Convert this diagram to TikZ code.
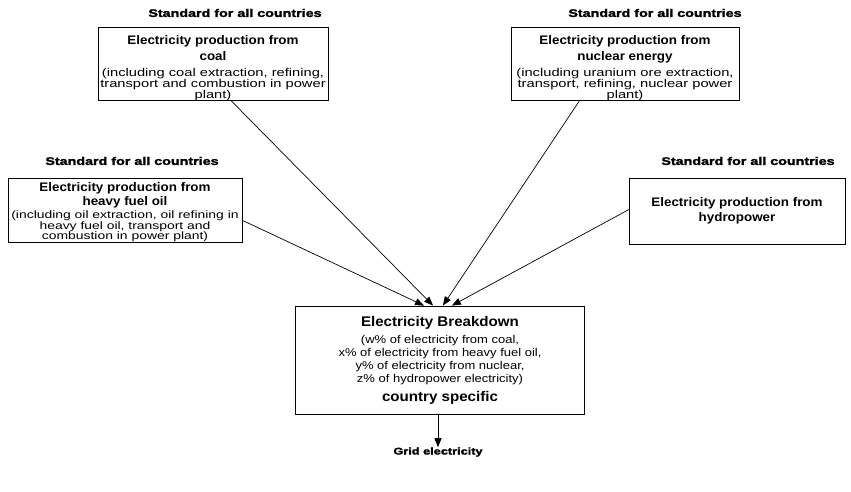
\documentclass[tikz,border=0pt]{standalone}
\usepackage{fontspec}
\setmainfont{Liberation Sans}
\newfontfamily\titfont{Liberation Sans}[FakeStretch=1.08]
\newfontfamily\smfontA{Liberation Sans}[FakeStretch=1.3]
\newfontfamily\smfontB{Liberation Sans}[FakeStretch=1.15]
\newfontfamily\labfont{Liberation Sans}[FakeStretch=1.3,FakeBold=2]
\usetikzlibrary{arrows.meta,calc}
\newcommand\fTitle{\titfont\bfseries\fontsize{12.4}{16}\selectfont}
\newcommand\fBig{\titfont\bfseries\fontsize{14}{18}\selectfont}
\newcommand\fSmall{\smfontA\fontsize{11.3}{11}\selectfont}
\newcommand\fSmallH{\smfontA\fontsize{10.7}{11}\selectfont}
\newcommand\fSmallB{\smfontB\fontsize{11.3}{13}\selectfont}
\newcommand\fLabel{\labfont\bfseries\fontsize{11}{13}\selectfont}
\newcommand\fGrid{\labfont\bfseries\fontsize{9.8}{12}\selectfont}
\tikzset{
  box/.style={draw, line width=0.8pt, inner sep=0pt, align=center},
  lab/.style={inner sep=0pt, font=\fLabel},
  conn/.style={line width=0.7pt, -{Triangle[length=9pt,width=7pt]}}
}
\begin{document}
\begin{tikzpicture}[x=1pt,y=-1pt]
\useasboundingbox[fill=white] (0,0) rectangle (851,491);
% labels
\node[lab] (lcoal) at (235,13) {Standard for all countries};
\node[lab] (lnuc) at (655,13) {Standard for all countries};
\node[lab] (lhfo) at (132,161) {Standard for all countries};
\node[lab] (lhyd) at (748,161) {Standard for all countries};
% boxes
\node[box, minimum width=230, minimum height=72,
      font={\fontsize{11}{11}\selectfont\lineskiplimit=-50pt}] (coal) at (213,64)
 {\fTitle\rule{0pt}{17pt}Electricity production from\\[5pt] \fTitle coal\\[5pt]
  \fSmall (including coal extraction, refining,\\
  \fSmall transport and combustion in power\\ \fSmall plant)};
\node[box, minimum width=228, minimum height=72,
      font={\fontsize{11}{11}\selectfont\lineskiplimit=-50pt}] (nuc) at (625,64)
 {\fTitle\rule{0pt}{17pt}Electricity production from\\[5pt] \fTitle nuclear energy\\[5pt]
  \fSmall (including uranium ore extraction,\\
  \fSmall transport, refining, nuclear power\\ \fSmall plant)};
\node[box, minimum width=234, minimum height=64,
      font={\fontsize{11}{10.5}\selectfont\lineskiplimit=-50pt}] (hfo) at (125,210)
 {\fTitle\rule{0pt}{13pt}Electricity production from\\[3.5pt] \fTitle heavy fuel oil\\[3pt]
  \fSmallH (including oil extraction, oil refining in\\
  \fSmallH heavy fuel oil, transport and\\ \fSmallH combustion in power plant)};
\node[box, minimum width=216, minimum height=66,
      font={\fontsize{11}{15}\selectfont\lineskiplimit=-50pt}] (hyd) at (737,211)
 {\fTitle Electricity production from\\ \fTitle hydropower};
\node[box, minimum width=289, minimum height=108,
      font={\fontsize{11}{13}\selectfont\lineskiplimit=-50pt}] (brk) at (440,360)
 {\fBig Electricity Breakdown\\[4pt]
  \fSmallB (w\% of electricity from coal,\\
  \fSmallB x\% of electricity from heavy fuel oil,\\
  \fSmallB y\% of electricity from nuclear,\\
  \fSmallB z\% of hydropower electricity)\\[6pt]
  \fBig country specific};
\node[inner sep=0pt, font=\fGrid] (grid) at (438,452) {Grid electricity};
% connectors
\draw[conn] ($(hfo.north east)!0.66!(hfo.south east)$) -- ($(brk.north west)!0.445!(brk.north east)$);
\draw[conn] ($(coal.south west)!0.58!(coal.south east)$) -- ($(brk.north west)!0.476!(brk.north east)$);
\draw[conn] ($(nuc.south west)!0.30!(nuc.south east)$) -- ($(brk.north west)!0.51!(brk.north east)$);
\draw[conn] ($(hyd.north west)!0.48!(hyd.south west)$) -- ($(brk.north west)!0.541!(brk.north east)$);
\draw[conn] (brk.south -| grid.north) -- (grid.north);
\end{tikzpicture}
\end{document}
